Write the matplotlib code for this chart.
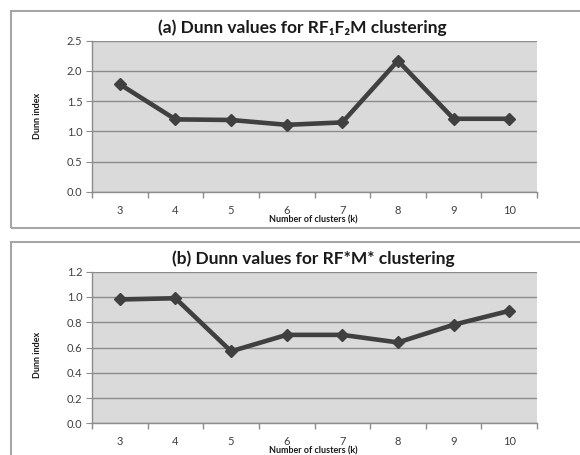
import matplotlib
matplotlib.use("Agg")
import matplotlib.pyplot as plt
from matplotlib.patches import Rectangle

plt.rcParams['font.family'] = ['Lato', 'DejaVu Sans']

k_values = ["3", "4", "5", "6", "7", "8", "9", "10"]
dunn_a = [1.78, 1.20, 1.19, 1.11, 1.15, 2.17, 1.21, 1.21]
dunn_b = [0.98, 0.99, 0.57, 0.70, 0.70, 0.64, 0.78, 0.89]
title_a = "(a) Dunn values for RF\u2081F\u2082M clustering"
title_b = "(b) Dunn values for RF*M* clustering"
yticks_a = [0.0, 0.5, 1.0, 1.5, 2.0, 2.5]
yticks_b = [0.0, 0.2, 0.4, 0.6, 0.8, 1.0, 1.2]

W, H = 580, 455
fig = plt.figure(figsize=(W / 100, H / 100), dpi=100)
fig.patch.set_facecolor("white")

def px_rect(x0, y0, x1, y1):
    return [x0 / W, 1 - y1 / H, (x1 - x0) / W, (y1 - y0) / H]

# outer boxes
for (y0, y1) in [(11, 228), (242, 462)]:
    r = Rectangle((11 / W, 1 - y1 / H), (590 - 11) / W, (y1 - y0) / H,
                  transform=fig.transFigure, facecolor="none",
                  edgecolor="#a6a6a6", linewidth=1.5, zorder=-5)
    fig.patches.append(r)

def panel(rect, vals, yticks, fmt, title, title_xy, ylab_y, xlab_y):
    ax = fig.add_axes(rect)
    x = list(range(len(k_values)))
    ax.set_facecolor("#dadada")
    ax.plot(x, vals, color="#404040", linewidth=3.3, marker="D", markersize=6.5,
            zorder=3, clip_on=False)
    ax.set_xlim(-0.5, len(k_values) - 0.5)
    ax.set_ylim(yticks[0], yticks[-1])
    ax.set_yticks(yticks)
    ax.set_yticklabels([fmt.format(v) for v in yticks])
    ax.set_xticks(x)
    ax.set_xticklabels(k_values)
    ax.set_xticks([i - 0.5 for i in range(len(k_values) + 1)], minor=True)
    ax.tick_params(axis="x", which="major", length=0, pad=9, labelsize=8,
                   labelcolor="#404040")
    ax.tick_params(axis="x", which="minor", length=4, color="#8c8c8c", width=1)
    ax.tick_params(axis="y", length=4, color="#8c8c8c", labelsize=8,
                   labelcolor="#404040", pad=3)
    ax.grid(axis="y", color="#8c8c8c", linewidth=1)
    ax.set_axisbelow(True)
    for s in ["top", "right"]:
        ax.spines[s].set_visible(False)
    for s in ["left", "bottom"]:
        ax.spines[s].set_color("#8c8c8c")
        ax.spines[s].set_linewidth(1)
    fig.text(title_xy[0] / W, 1 - title_xy[1] / H, title, ha="center",
             va="center", fontsize=12.5, fontweight="bold", color="#1a1a1a")
    fig.text(38 / W, 1 - ylab_y / H, "Dunn index", rotation=90, ha="center",
             va="center", fontsize=6.5, fontweight="bold", color="#1a1a1a")
    fig.text(313 / W, 1 - xlab_y / H, "Number of clusters (k)", ha="center",
             va="center", fontsize=6.5, fontweight="bold", color="#1a1a1a")
    return ax

panel(px_rect(92, 40.7, 537, 192), dunn_a, yticks_a, "{:.1f}", title_a,
      (302, 28), 116, 220)
panel(px_rect(92, 271.7, 537, 423.3), dunn_b, yticks_b, "{:.1f}", title_b,
      (313, 259), 355, 451)

fig.savefig("out.png", dpi=100)
